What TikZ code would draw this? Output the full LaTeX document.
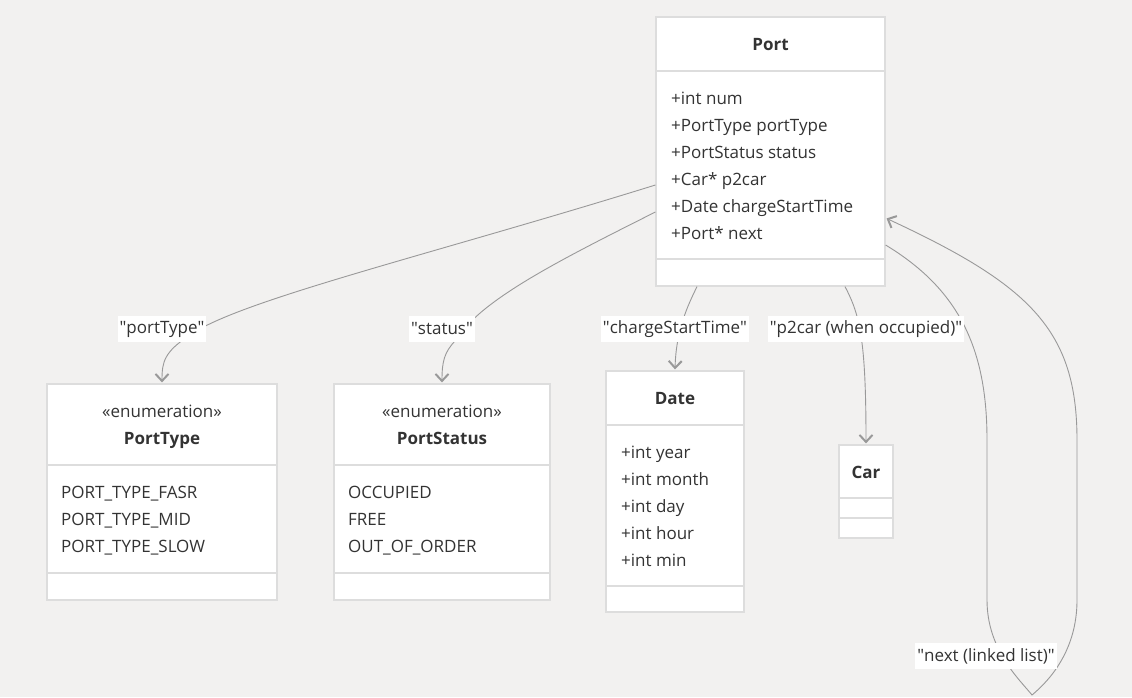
\documentclass[tikz,border=0pt]{standalone}
\usepackage{fontspec}
\setmainfont{Open Sans}
\usetikzlibrary{arrows.meta}
\definecolor{bgcol}{HTML}{F2F1F0}
\definecolor{boxline}{HTML}{DDDDDD}
\definecolor{edgecol}{HTML}{999999}
\definecolor{ink}{HTML}{333333}
\newcommand\umlfont{\fontsize{17}{20}\selectfont}
\newcommand\qq[1]{\textquotedbl#1\textquotedbl}

\begin{document}
\begin{tikzpicture}[x=1pt,y=-1pt,>={Straight Barb[length=7pt,width=13pt,line width=2pt]},
        box/.style={draw=boxline,fill=white,line width=1.2pt,inner sep=0pt},
        rule/.style={draw=boxline,line width=1.2pt},
        title/.style={anchor=base,font=\umlfont\bfseries,text=ink,inner sep=0pt},
        stereo/.style={anchor=base,font=\umlfont,text=ink,inner sep=0pt},
        attr/.style={anchor=base west,font=\umlfont,text=ink,inner sep=0pt},
        edge/.style={->,draw=edgecol,line width=0.9pt,shorten >=1pt},
        lbl/.style={fill=white,text=ink,font=\umlfont,inner xsep=2pt,inner ysep=0pt,minimum height=26pt}]

  \fill[bgcol] (0,0) rectangle (1132,697);
  \useasboundingbox (0,0) rectangle (1132,697);

  % classes
  \node[box,minimum width=229pt,minimum height=269pt] (port) at (770.5,151.5) {};
  \node[box,minimum width=230pt,minimum height=216pt] (porttype) at (162,492) {};
  \node[box,minimum width=216pt,minimum height=216pt] (portstatus) at (442,492) {};
  \node[box,minimum width=138pt,minimum height=241pt] (date) at (675,491.5) {};
  \node[box,minimum width=54pt,minimum height=93pt] (car) at (866,491.5) {};

  \draw[rule] (port.west |- 0,71) -- (port.east |- 0,71);
  \draw[rule] (port.west |- 0,259) -- (port.east |- 0,259);
  \draw[rule] (porttype.west |- 0,465) -- (porttype.east |- 0,465);
  \draw[rule] (porttype.west |- 0,573) -- (porttype.east |- 0,573);
  \draw[rule] (portstatus.west |- 0,465) -- (portstatus.east |- 0,465);
  \draw[rule] (portstatus.west |- 0,573) -- (portstatus.east |- 0,573);
  \draw[rule] (date.west |- 0,425) -- (date.east |- 0,425);
  \draw[rule] (date.west |- 0,586) -- (date.east |- 0,586);
  \draw[rule] (car.west |- 0,498) -- (car.east |- 0,498);
  \draw[rule] (car.west |- 0,518) -- (car.east |- 0,518);

  \node[title] (porttitle) at (770.5,50) {Port};
  \node[stereo] (typestereo) at (162,417) {«enumeration»};
  \node[title] (typetitle) at (162,444) {PortType};
  \node[stereo] (statusstereo) at (442,417) {«enumeration»};
  \node[title] (statustitle) at (442,444) {PortStatus};
  \node[title] (datetitle) at (675,404) {Date};
  \node[title] (cartitle) at (866,478) {Car};

  \foreach \t [count=\i from 0] in {+int num,+PortType portType,+PortStatus status,
      +Car* p2car,+Date chargeStartTime,+Port* next}
    \node[attr] (portattr\i) at (671,{104+27*\i}) {\t};
  \foreach \t [count=\i from 0] in {PORT\_TYPE\_FASR,PORT\_TYPE\_MID,PORT\_TYPE\_SLOW}
    \node[attr] (typeval\i) at (61,{498+27*\i}) {\t};
  \foreach \t [count=\i from 0] in {OCCUPIED,FREE,OUT\_OF\_ORDER}
    \node[attr] (statusval\i) at (348,{498+27*\i}) {\t};
  \foreach \t [count=\i from 0] in {+int year,+int month,+int day,+int hour,+int min}
    \node[attr] (dateattr\i) at (621,{458+27*\i}) {\t};

  % relations
  \coordinate (mtype) at (162,329);
  \coordinate (mstatus) at (442,329);
  \coordinate (mdate) at (675,329);
  \coordinate (mcar) at (866,329);
  \coordinate (mnext) at (986,656);

  \draw[edge] ([yshift=-33.5pt]port.west) .. controls (430,255) and (240,300) .. (190,335)
        .. controls (164,352) and (162,362) .. (porttype.north);
  \draw[edge] ([yshift=-60.5pt]port.west) .. controls (560,260) and (480,300) .. (456,340)
        .. controls (444,352) and (442,362) .. (portstatus.north);
  \draw[edge] ([xshift=-73.5pt]port.south) .. controls (688,305) and (676,330) .. (date.north);
  \draw[edge] ([xshift=74.5pt]port.south) .. controls (860,315) and (866,340) .. (car.north);
  \draw[edge] ([yshift=-93.5pt]port.east) .. controls (960,290) and (987,350) .. (987,440)
        -- (987,600) .. controls (987,650) and (1020,680) .. (1032,695)
        .. controls (1050,680) and (1077,650) .. (1077,600) -- (1077,440)
        .. controls (1077,330) and (1030,285) .. ([yshift=-66.5pt]port.east);

  \node[lbl] (ltype) at (mtype) {\qq{portType}};
  \node[lbl] (lstatus) at (mstatus) {\qq{status}};
  \node[lbl] (ldate) at (mdate) {\qq{chargeStartTime}};
  \node[lbl] (lcar) at (mcar) {\qq{p2car (when occupied)}};
  \node[lbl] (lnext) at (mnext) {\qq{next (linked list)}};

\end{tikzpicture}
\end{document}
